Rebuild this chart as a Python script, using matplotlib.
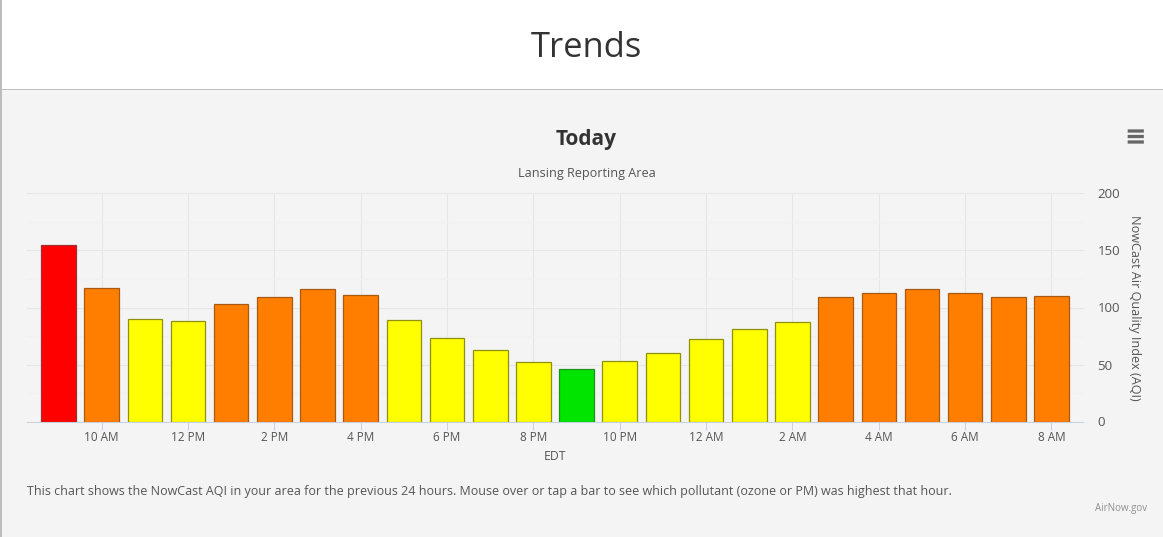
import matplotlib
matplotlib.use("Agg")
import matplotlib.pyplot as plt
from matplotlib.patches import FancyBboxPatch, Rectangle

plt.rcParams["font.family"] = ["Open Sans", "DejaVu Sans"]

values = [155, 117, 90, 88, 103, 109, 116, 111, 89, 73, 63, 52,
          46, 53, 60, 72, 81, 87, 109, 113, 116, 113, 109, 110]
fills = ["#ff0000", "#ff7e00", "#ffff00", "#ffff00", "#ff7e00", "#ff7e00",
         "#ff7e00", "#ff7e00", "#ffff00", "#ffff00", "#ffff00", "#ffff00",
         "#00e400", "#ffff00", "#ffff00", "#ffff00", "#ffff00", "#ffff00",
         "#ff7e00", "#ff7e00", "#ff7e00", "#ff7e00", "#ff7e00", "#ff7e00"]
edges = ["#a03030", "#a85a10", "#8f8f10", "#8f8f10", "#a85a10", "#a85a10",
         "#a85a10", "#a85a10", "#8f8f10", "#8f8f10", "#8f8f10", "#8f8f10",
         "#209020", "#8f8f10", "#8f8f10", "#8f8f10", "#8f8f10", "#8f8f10",
         "#a85a10", "#a85a10", "#a85a10", "#a85a10", "#a85a10", "#a85a10"]
hour_ticks = [1, 3, 5, 7, 9, 11, 13, 15, 17, 19, 21, 23]
hour_labels = ["10 AM", "12 PM", "2 PM", "4 PM", "6 PM", "8 PM",
               "10 PM", "12 AM", "2 AM", "4 AM", "6 AM", "8 AM"]
aqi_ticks = [0, 50, 100, 150, 200]
minor_ticks = [25, 75, 125, 175]

W, H = 1163, 537
fig = plt.figure(figsize=(W / 100, H / 100), dpi=100, facecolor="white")


def fx(px):
    return px / W


def fy(py):
    return 1 - py / H


# page background, panel, separator
fig.patches.append(Rectangle((0, 0), 1, fy(89.5), transform=fig.transFigure,
                             facecolor="#f4f4f4", edgecolor="none", zorder=-5))
fig.patches.append(Rectangle((0, fy(90)), 1, 1 / H, transform=fig.transFigure,
                             facecolor="#bdbdbd", edgecolor="none", zorder=-4))
fig.patches.append(Rectangle((0, 0), 2 / W, 1, transform=fig.transFigure,
                             facecolor="#bdbdbd", edgecolor="none", zorder=-3))

axis = fig.add_axes([fx(27), fy(421.5), fx(1083 - 27), (421.5 - 193.5) / H])
axis.set_facecolor("#f4f4f4")
axis.bar(range(len(values)), values, width=0.80, color=fills, edgecolor=edges,
         linewidth=0.9, zorder=3)
axis.set_xlim(-0.73, 23.73)
axis.set_ylim(0, 200)

axis.yaxis.tick_right()
axis.yaxis.set_label_position("right")
axis.set_yticks(aqi_ticks)
axis.set_yticks(minor_ticks, minor=True)
axis.set_xticks(hour_ticks)
axis.set_xticklabels(hour_labels)
axis.tick_params(axis="y", which="both", length=0, pad=10.5, labelsize=9.5, labelcolor="#555555")
axis.tick_params(axis="x", length=6, width=0.75, color="#c6d2e4", pad=0.5,
                 labelsize=8.5, labelcolor="#555555")
axis.grid(True, which="major", color="#e6e6e6", linewidth=0.75, zorder=0, clip_on=False)
axis.grid(True, which="minor", axis="y", color="#f1f1f1", linewidth=0.75, zorder=0)
for side in ["top", "left", "right"]:
    axis.spines[side].set_visible(False)
axis.spines["bottom"].set_color("#c6d2e4")
axis.spines["bottom"].set_linewidth(0.75)
axis.spines["bottom"].set_zorder(4)
axis.set_axisbelow(True)

fig.text(fx(586.5), fy(57), "Trends", fontsize=24.8, color="#333333", ha="center", va="baseline")
fig.text(fx(586.5), fy(139), "Today", fontsize=15, fontweight="bold", color="#333333",
         ha="center", va="center")
fig.text(fx(587), fy(173), "Lansing Reporting Area", fontsize=9.05, color="#555555",
         ha="center", va="center")
fig.text(fx(555), fy(457), "EDT", fontsize=8.8, color="#555555", ha="center", va="center")
fig.text(fx(1135), fy(307.5), "NowCast Air Quality Index (AQI)", fontsize=9.1, color="#555555",
         rotation=270, ha="center", va="center")
fig.text(fx(27), fy(492), "This chart shows the NowCast AQI in your area for the previous 24 hours. "
         "Mouse over or tap a bar to see which pollutant (ozone or PM) was highest that hour.",
         fontsize=8.97, color="#555555", ha="left", va="center")
fig.text(fx(1147), fy(508), "AirNow.gov", fontsize=7, color="#909090", ha="right", va="center")

# menu icon
for py in [131, 136.5, 142]:
    fig.patches.append(FancyBboxPatch((fx(1128.5), fy(py + 0.8)), 14.5 / W, 1.6 / H,
                                      boxstyle="round,pad=0", transform=fig.transFigure,
                                      facecolor="#666666", edgecolor="#666666", linewidth=1.2))

fig.savefig("out.png", dpi=100, facecolor=fig.get_facecolor())
